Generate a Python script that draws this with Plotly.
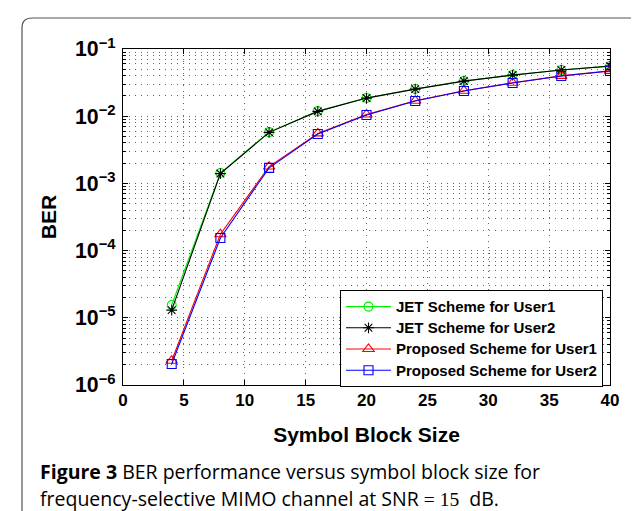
import plotly.graph_objects as go

# ---- data ----
block_size = [4, 8, 12, 16, 20, 24, 28, 32, 36, 40]
jet_user1 = [1.55e-5, 1.43e-3, 5.8e-3, 1.19e-2, 1.87e-2, 2.54e-2, 3.34e-2, 4.1e-2, 4.87e-2, 5.58e-2]
jet_user2 = [1.3e-5, 1.40e-3, 5.75e-3, 1.18e-2, 1.86e-2, 2.53e-2, 3.33e-2, 4.09e-2, 4.86e-2, 5.56e-2]
prop_user1 = [2.3e-6, 1.75e-4, 1.78e-3, 5.55e-3, 1.06e-2, 1.70e-2, 2.39e-2, 3.14e-2, 3.98e-2, 4.73e-2]
prop_user2 = [2.05e-6, 1.54e-4, 1.70e-3, 5.43e-3, 1.04e-2, 1.68e-2, 2.37e-2, 3.12e-2, 3.96e-2, 4.71e-2]
names = ["JET Scheme for User1", "JET Scheme for User2",
         "Proposed Scheme for User1", "Proposed Scheme for User2"]
x_ticks = [0, 5, 10, 15, 20, 25, 30, 35, 40]

W, H = 639, 511
L, R, T, B = 115, 602, 41, 377
pw, ph = R - L, B - T

def px(xp):
    return (xp - L) / pw

def py(yp):
    return (B - yp) / ph

series = [
    (jet_user1, "#00ee00", "circle-open", 9),
    (jet_user2, "#000000", "asterisk-open", 9),
    (prop_user1, "#ff0000", "triangle-up-open", 10),
    (prop_user2, "#0000ff", "square-open", 9),
]

fig = go.Figure()
for (vals, col, sym, sz), nm in zip(series, names):
    fig.add_trace(go.Scatter(
        x=block_size, y=vals, mode="lines+markers",
        name='<span style="font-size:15px">' + nm + '</span>',
        line=dict(color=col, width=1.1),
        marker=dict(symbol=sym, size=sz, color=col, line=dict(color=col, width=1.1)),
    ))

base_font = dict(family="Liberation Sans, Arial, sans-serif", color="black")
grid_col = "rgba(0,0,0,0.6)"

fig.update_xaxes(
    range=[0, 40], tickvals=x_ticks, ticks="inside", ticklen=5, tickcolor="black",
    showline=True, linecolor="black", linewidth=1, mirror="allticks",
    showgrid=True, gridcolor=grid_col, griddash="1px,5px", gridwidth=1,
    zeroline=False,
    tickfont=dict(size=17, weight="bold", **base_font),
    title=dict(text="Symbol Block Size", font=dict(size=21, weight="bold", **base_font), standoff=17),
)
fig.update_yaxes(
    type="log", range=[-6, -1], dtick=1, exponentformat="power",
    ticks="inside", ticklen=5, tickcolor="black", ticklabelstandoff=3,
    showline=True, linecolor="black", linewidth=1, mirror="allticks",
    showgrid=True, gridcolor=grid_col, griddash="1px,5px", gridwidth=1,
    zeroline=False,
    minor=dict(dtick="D1", ticks="inside", ticklen=3, tickcolor="black",
               showgrid=True, gridcolor=grid_col, griddash="1px,5px", gridwidth=1),
    tickfont=dict(size=17, weight="bold", **base_font),
    title=dict(text="BER", font=dict(size=21, weight="bold", **base_font), standoff=12),
)

# rounded frame around the figure
fl, fr, ft, fb = 14, 637, 10, 530
rx, ry = 10 / pw, 10 / ph
path = (f"M {px(fl)},{py(fb)} L {px(fl)},{py(ft) - ry} Q {px(fl)},{py(ft)} {px(fl) + rx},{py(ft)} "
        f"L {px(fr) - rx},{py(ft)} Q {px(fr)},{py(ft)} {px(fr)},{py(ft) - ry} L {px(fr)},{py(fb)}")
fig.add_shape(type="path", path=path, xref="paper", yref="paper",
              line=dict(color="#555555", width=1.2), layer="below")

cap_font = dict(family="Open Sans, Noto Sans, sans-serif", size=19.5, color="black")
fig.add_annotation(
    x=px(30), y=py(463), xref="paper", yref="paper", xanchor="left", yanchor="middle",
    showarrow=False, font=cap_font, align="left",
    text="<b>Figure 3</b> BER performance versus symbol block size for",
)
fig.add_annotation(
    x=px(30), y=py(490), xref="paper", yref="paper", xanchor="left", yanchor="middle",
    showarrow=False, font=cap_font, align="left",
    text=('frequency-selective MIMO channel at SNR '
          '<span style="font-family:Liberation Serif, DejaVu Serif, serif">=&nbsp;15</span>'
          '&nbsp;&nbsp;dB.'),
)

fig.update_layout(
    width=W, height=H,
    margin=dict(l=L, r=W - R, t=T, b=H - B, autoexpand=False),
    paper_bgcolor="white", plot_bgcolor="white",
    showlegend=True,
    legend=dict(
        x=px(332), y=py(282), xanchor="left", yanchor="top",
        bgcolor="white", bordercolor="black", borderwidth=1,
        font=dict(size=14, weight="bold", **base_font),
        itemwidth=45, tracegroupgap=0,
    ),
)

fig.write_html("out.html")
